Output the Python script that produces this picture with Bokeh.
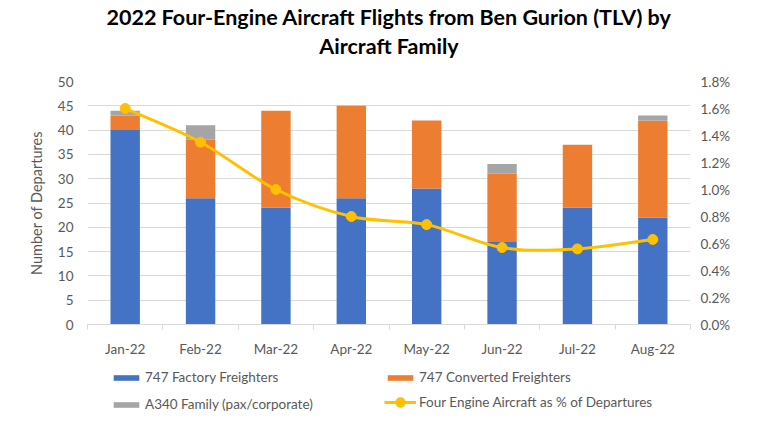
from bokeh.plotting import figure
from bokeh.layouts import column
from bokeh.models import (Range1d, LinearAxis, FixedTicker, PrintfTickFormatter,
                          Legend, LegendItem, Title, ColumnDataSource)
from bokeh.embed import file_html
from bokeh.resources import INLINE

months = ["Jan-22", "Feb-22", "Mar-22", "Apr-22", "May-22", "Jun-22", "Jul-22", "Aug-22"]
factory_747 = [40, 26, 24, 26, 28, 17, 24, 22]
converted_747 = [3, 12, 20, 19, 14, 14, 13, 20]
a340 = [1, 3, 0, 0, 0, 2, 0, 1]
pct_departures = [1.60, 1.35, 1.00, 0.80, 0.74, 0.57, 0.56, 0.63]
title_lines = ["2022 Four-Engine Aircraft Flights from Ben Gurion (TLV) by", "Aircraft Family"]
series_names = ["747 Factory Freighters", "747 Converted Freighters",
                "A340 Family (pax/corporate)", "Four Engine Aircraft as % of Departures"]

FONT = "Lato"
GREY_TXT = "#595959"
BLUE, ORANGE, GREY, GOLD = "#4472c4", "#ed7d31", "#a5a5a5", "#ffc000"

xs = list(range(len(months)))
b1 = factory_747
b2 = [a + b for a, b in zip(factory_747, converted_747)]
b3 = [a + b for a, b in zip(b2, a340)]

fig = figure(width=752, height=360, output_backend="svg", toolbar_location=None,
             x_range=Range1d(-0.5, len(months) - 0.5), y_range=Range1d(0, 50),
             min_border_left=87, min_border_right=62, min_border_top=81,
             min_border_bottom=36)
fig.outline_line_color = None
fig.background_fill_color = "white"
fig.border_fill_color = "white"
fig.extra_y_ranges = {"pct": Range1d(0, 1.8)}

src = ColumnDataSource(dict(x=xs, b1=b1, b2=b2, b3=b3, pct=pct_departures))
W = 0.39
fig.vbar(x="x", bottom=0, top="b1", width=W, source=src, fill_color=BLUE, line_color=None)
fig.vbar(x="x", bottom="b1", top="b2", width=W, source=src, fill_color=ORANGE, line_color=None)
fig.vbar(x="x", bottom="b2", top="b3", width=W, source=src, fill_color=GREY, line_color=None)

# smooth line (Catmull-Rom -> cubic Bezier) through the data points
n = len(xs)
x0, y0, x1, y1, cx0, cy0, cx1, cy1 = [], [], [], [], [], [], [], []
for i in range(n - 1):
    pm = max(i - 1, 0)
    pp = min(i + 2, n - 1)
    x0.append(xs[i]); y0.append(pct_departures[i])
    x1.append(xs[i + 1]); y1.append(pct_departures[i + 1])
    cx0.append(xs[i] + (xs[i + 1] - xs[pm]) / 6)
    cy0.append(pct_departures[i] + (pct_departures[i + 1] - pct_departures[pm]) / 6)
    cx1.append(xs[i + 1] - (xs[pp] - xs[i]) / 6)
    cy1.append(pct_departures[i + 1] - (pct_departures[pp] - pct_departures[i]) / 6)
fig.bezier(x0=x0, y0=y0, x1=x1, y1=y1, cx0=cx0, cy0=cy0, cx1=cx1, cy1=cy1,
           line_color=GOLD, line_width=3, y_range_name="pct")
fig.scatter(x="x", y="pct", source=src, size=10, fill_color=GOLD,
            line_color=GOLD, y_range_name="pct")

# axes
fig.yaxis.ticker = FixedTicker(ticks=list(range(0, 51, 5)))
fig.yaxis.axis_line_color = None
fig.yaxis.major_tick_line_color = None
fig.yaxis.major_tick_out = 0
fig.yaxis.minor_tick_line_color = None
fig.yaxis.major_label_text_font = FONT
fig.yaxis.major_label_text_font_size = "13.5px"
fig.yaxis.major_label_text_color = GREY_TXT
fig.yaxis.major_label_standoff = 14
fig.yaxis.axis_label = "Number of Departures"
fig.yaxis.axis_label_text_font = FONT
fig.yaxis.axis_label_text_font_style = "normal"
fig.yaxis.axis_label_text_font_size = "14.5px"
fig.yaxis.axis_label_text_color = GREY_TXT
fig.yaxis.axis_label_standoff = 10

ra = LinearAxis(y_range_name="pct",
                ticker=FixedTicker(ticks=[round(0.2 * i, 1) for i in range(10)]),
                formatter=PrintfTickFormatter(format="%.1f%%"))
ra.axis_line_color = None
ra.major_tick_line_color = None
ra.major_tick_out = 0
ra.minor_tick_line_color = None
ra.major_label_text_font = FONT
ra.major_label_text_font_size = "13.5px"
ra.major_label_text_color = GREY_TXT
ra.major_label_standoff = 10
fig.add_layout(ra, "right")

fig.xaxis.ticker = FixedTicker(ticks=xs, minor_ticks=[i - 0.5 for i in range(n + 1)])
fig.xaxis.major_label_overrides = {i: m for i, m in enumerate(months)}
fig.xaxis.major_tick_line_color = None
fig.xaxis.major_tick_out = 0
fig.xaxis.minor_tick_line_color = "#d9d9d9"
fig.xaxis.minor_tick_in = 0
fig.xaxis.minor_tick_out = 5
fig.xaxis.axis_line_color = "#d9d9d9"
fig.xaxis.major_label_text_font = FONT
fig.xaxis.major_label_text_font_size = "13.5px"
fig.xaxis.major_label_text_color = GREY_TXT
fig.xaxis.major_label_standoff = 11

fig.xgrid.grid_line_color = None
fig.ygrid.grid_line_color = "#d9d9d9"
fig.ygrid.grid_line_width = 1

# title block: first added "above" item sits next to the frame, p.title is outermost
fig.add_layout(Title(text=" ", align="center", text_font=FONT,
                     text_font_size="21.5px", standoff=-8), "above")
fig.add_layout(Title(text=title_lines[1], align="center", text_font=FONT,
                     text_font_style="bold", text_font_size="21.5px",
                     text_color="black", standoff=5), "above")
fig.title.text = title_lines[0]
fig.title.align = "center"
fig.title.text_font = FONT
fig.title.text_font_style = "bold"
fig.title.text_font_size = "21.5px"
fig.title.text_color = "black"
fig.title.standoff = -2

# legend strip: same data, view ranges kept away from it so only the legend shows
leg = figure(width=752, height=54, output_backend="svg", toolbar_location=None,
             x_range=Range1d(100, 101), y_range=Range1d(100, 101),
             x_axis_location=None, y_axis_location=None,
             min_border_left=0, min_border_right=0, min_border_top=0, min_border_bottom=0)
leg.outline_line_color = None
leg.grid.grid_line_color = None
leg.border_fill_color = "white"
lr1 = leg.vbar(x="x", bottom=0, top="b1", width=W, source=src, fill_color=BLUE, line_color=None)
lr2 = leg.vbar(x="x", bottom="b1", top="b2", width=W, source=src, fill_color=ORANGE, line_color=None)
lr3 = leg.vbar(x="x", bottom="b2", top="b3", width=W, source=src, fill_color=GREY, line_color=None)
lr4a = leg.line(x="x", y="pct", source=src, line_color=GOLD, line_width=3)
lr4b = leg.scatter(x="x", y="pct", source=src, size=10, fill_color=GOLD, line_color=GOLD)


def make_legend(items, loc, gh):
    lg = Legend(items=items, location=loc)
    lg.border_line_color = None
    lg.background_fill_alpha = 0
    lg.padding = 0
    lg.margin = 0
    lg.glyph_width = 32
    lg.glyph_height = gh
    lg.label_height = 20
    lg.label_standoff = 3
    lg.spacing = 7
    lg.label_text_font = FONT
    lg.label_text_font_size = "13.5px"
    lg.label_text_color = GREY_TXT
    leg.add_layout(lg, "center")


# the strip's frame is aligned with the chart frame (left edge at 87 px)
make_legend([LegendItem(label=series_names[0], renderers=[lr1]),
             LegendItem(label=series_names[2], renderers=[lr3])], (23, 0), 7)
make_legend([LegendItem(label=series_names[1], renderers=[lr2])], (297, 27), 7)
make_legend([LegendItem(label=series_names[3], renderers=[lr4a, lr4b])], (297, 0), 24)

p = column(fig, leg, spacing=0)
open("out.html", "w").write(file_html(p, INLINE))
